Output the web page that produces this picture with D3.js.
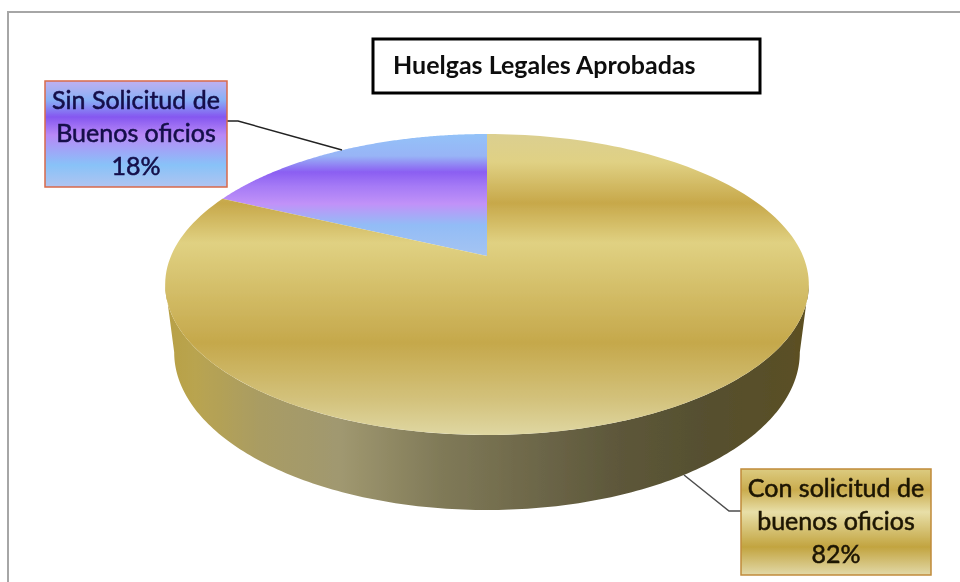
<!DOCTYPE html>
<html>
<head>
<meta charset="utf-8">
<script src="https://cdn.jsdelivr.net/npm/d3@7"></script>
<style>
  html, body { margin: 0; padding: 0; background: #fff; }
  svg { display: block; }
  text { font-family: Lato, "Open Sans", sans-serif; }
</style>
</head>
<body>
<div id="chart"></div>
<script>
const chartTitle = "Huelgas Legales Aprobadas";
const categories = ["Sin Solicitud de Buenos oficios", "Con solicitud de buenos oficios"];
const values = [18, 82];
const labelLines = [["Sin Solicitud de", "Buenos oficios", "18%"], ["Con solicitud de", "buenos oficios", "82%"]];

const width = 960, height = 582;

const svg = d3.select("#chart").append("svg")
    .attr("width", width)
    .attr("height", height);

const defs = svg.append("defs");

function gradient(id, vertical, stops, from, to) {
    const g = defs.append("linearGradient")
        .attr("id", id)
        .attr("gradientUnits", "userSpaceOnUse")
        .attr("x1", vertical ? 0 : from).attr("x2", vertical ? 0 : to)
        .attr("y1", vertical ? from : 0).attr("y2", vertical ? to : 0);
    stops.forEach(function (s) {
        g.append("stop")
            .attr("offset", (s[0] - from) / (to - from))
            .attr("stop-color", s[1]);
    });
}

gradient("goldTop", true, [[134, "#dbcf90"], [162, "#e0d184"], [203, "#c7a84a"], [243, "#e0d182"], [343, "#c5a84b"], [400, "#d3c27c"], [435, "#dfd7a2"]], 134, 435);
gradient("violetTop", true, [[134, "#93c2f8"], [156, "#98b4f6"], [172, "#8b5ff2"], [186, "#a57af6"], [204, "#c192f8"], [225, "#92bcf6"], [256, "#a5c4f2"]], 134, 256);
gradient("wall", false, [[165, "#b8a045"], [195, "#b9a44f"], [260, "#a99c63"], [340, "#a09870"], [440, "#807a58"], [540, "#6c6648"], [620, "#5d573a"], [700, "#565030"], [790, "#5a4f26"], [809, "#5e5120"]], 165, 809);
gradient("boxViolet", true, [[81, "#c0b0f0"], [100, "#88b0f6"], [117, "#8557f0"], [135, "#b888f6"], [165, "#88c2f8"], [187, "#b0c4f0"]], 81, 187);
gradient("boxGold", true, [[469, "#dccb80"], [490, "#caac4e"], [512, "#e8dfa8"], [547, "#c2a440"], [575, "#e2d9a8"]], 469, 575);

defs.append("filter").attr("id", "soft")
    .append("feGaussianBlur").attr("stdDeviation", 0.6);

// pie angles, the small slice ends at 12 o'clock
const pie = d3.pie().sort(null).value(d => d)
    .startAngle(-2 * Math.PI * values[0] / d3.sum(values))
    .endAngle(2 * Math.PI * (1 - values[0] / d3.sum(values)));
const arcs = pie(values);

// perspective: disc coordinates to screen, the centre sits above the middle of the ellipse
const cx = 487, cy = 256, radius = 316, persp = -0.1894;

function topPoint(angle) {
    const u = Math.sin(angle), v = -Math.cos(angle);
    const w = 1 + persp * v;
    return [cx + radius * u / w, (cy + 96.6 * v) / w];
}

function bottomPoint(angle) {
    const p = topPoint(angle);
    return [cx + (p[0] - cx) * 0.972, 353 + (p[1] - 285) * 1.047];
}

const line = d3.line();

function sweep(a0, a1, fn) {
    return d3.range(0, 181).map(i => fn(a0 + (a1 - a0) * i / 180));
}

const chart = svg.append("g").attr("filter", "url(#soft)");

// frame
chart.append("path")
    .attr("d", "M960,12H8V582")
    .attr("fill", "none")
    .attr("stroke", "#a6a6a6")
    .attr("stroke-width", 2);

// side wall, from the widest point of the rim round the front
const wallRim = sweep(Math.PI * 0.56, Math.PI * 1.44, topPoint);
const wallBottom = sweep(Math.PI * 1.44, Math.PI * 0.56, bottomPoint);
chart.append("path")
    .attr("d", line(wallRim.concat(wallBottom)) + "Z")
    .attr("fill", "url(#wall)");

// top face slices
const fills = ["url(#violetTop)", "url(#goldTop)"];
chart.selectAll(".slice")
    .data(arcs)
    .enter().append("path")
    .attr("class", "slice")
    .attr("fill", (d, i) => fills[i])
    .attr("d", d => line([[cx, cy]].concat(sweep(d.startAngle, d.endAngle, topPoint))) + "Z");

// leader lines
const leaderPaths = [
    [[227, 121], [238, 121], [342, 150]],
    [[741, 511], [729, 511], [684, 475]]
];
chart.selectAll(".leader")
    .data(leaderPaths)
    .enter().append("path")
    .attr("class", "leader")
    .attr("fill", "none")
    .attr("stroke", (d, i) => i ? "#4d4d4d" : "#222")
    .attr("stroke-width", 1.5)
    .attr("d", d => line(d));

// label boxes
const boxes = [
    {x: 45, y: 81, w: 182, h: 106, fill: "url(#boxViolet)", stroke: "#d8694a", text: "#14104a"},
    {x: 741, y: 469, w: 190, h: 106, fill: "url(#boxGold)", stroke: "#c08a3a", text: "#1e1606"}
];

boxes.forEach(function (b, i) {
    const g = chart.append("g").attr("class", "data-label");
    g.append("rect")
        .attr("x", b.x).attr("y", b.y)
        .attr("width", b.w).attr("height", b.h)
        .attr("fill", b.fill)
        .attr("stroke", b.stroke)
        .attr("stroke-width", 1.5);
    g.selectAll("text")
        .data(labelLines[i])
        .enter().append("text")
        .attr("x", b.x + b.w / 2)
        .attr("y", (d, j) => b.y + 28 + j * 33)
        .attr("text-anchor", "middle")
        .attr("font-size", 25)
        .attr("fill", b.text)
        .attr("stroke", b.text)
        .attr("stroke-width", 0.55)
        .text(d => d);
});

// title box
chart.append("rect")
    .attr("x", 373).attr("y", 39)
    .attr("width", 387).attr("height", 54)
    .attr("fill", "#fff")
    .attr("stroke", "#000")
    .attr("stroke-width", 3);

chart.append("text")
    .attr("x", 393).attr("y", 74)
    .attr("font-size", 25)
    .attr("font-weight", 700)
    .attr("fill", "#111")
    .text(chartTitle);
</script>
</body>
</html>
